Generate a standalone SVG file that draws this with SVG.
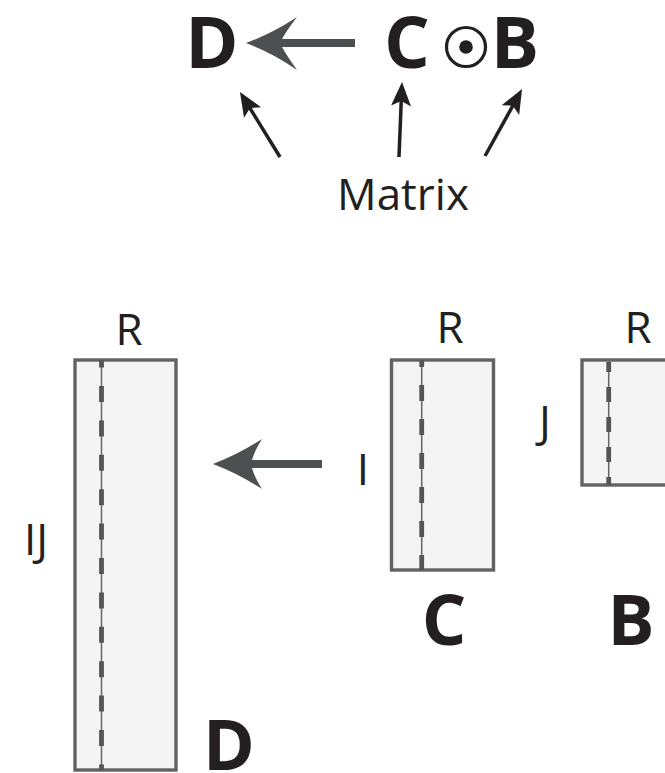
<svg xmlns="http://www.w3.org/2000/svg" width="665" height="773" viewBox="0 0 665 773">
  <style>
    .lbl { font-family: "Open Sans", "Liberation Sans", sans-serif; fill: #231f20; text-anchor: middle; }
    .big { font-weight: 700; font-size: 72px; }
    .mid { font-size: 44px; }
    .mat { fill: #f4f4f4; stroke: #626262; stroke-width: 3.4; }
    .axis { stroke: #666666; stroke-width: 1.5; fill: none; }
    .dash { stroke: #555555; stroke-width: 4.8; fill: none; }
    .thin { stroke: #231f20; stroke-width: 3.5; fill: none; marker-end: url(#head); }
    .fat { fill: #4d5050; }
  </style>
  <defs>
    <marker id="head" markerUnits="userSpaceOnUse" viewBox="-16 -11 28 22" markerWidth="28" markerHeight="22" refX="0" refY="0" orient="auto">
      <path d="M10,0 L-14,-10 L-9,0 L-14,10 Z" fill="#231f20"/>
    </marker>
  </defs>

  <!-- formula: D <- C (.) B -->
  <g id="formula">
    <text class="lbl big" x="212" y="68">D</text>
    <text class="lbl big" x="407" y="68">C</text>
    <text class="lbl big" x="515" y="68">B</text>
    <circle cx="466" cy="47" r="19.5" fill="none" stroke="#231f20" stroke-width="3.2"/>
    <circle cx="466" cy="47" r="6.8" fill="#231f20"/>
  </g>

  <g id="matrix-label">
    <text class="lbl mid" x="403" y="210">Matrix</text>
  </g>

  <g id="connectors">
    <path class="fat" d="M246,43 Q273,33 297,17 Q287,30 282,39 L355,39 L355,47 L282,47 Q287,56 297,70 Q273,53 246,43 Z"/>
    <line class="thin" x1="280" y1="157" x2="245.2" y2="100.5"/>
    <line class="thin" x1="399" y1="157" x2="401.6" y2="92"/>
    <line class="thin" x1="485" y1="156" x2="517.2" y2="97.8"/>
    <path class="fat" d="M213,464 Q239,454 262,439 Q254,452 252,460 L322,460 L322,468 L252,468 Q254,476 262,489 Q239,474 213,464 Z"/>
  </g>

  <!-- D : IJ x R -->
  <g id="matrix-D">
    <rect class="mat" x="75" y="360" width="101" height="410"/>
    <line class="axis" x1="101.5" y1="360" x2="101.5" y2="770"/>
    <line class="dash" x1="101.5" y1="360" x2="101.5" y2="770" stroke-dasharray="16 18.4" stroke-dashoffset="8.4"/>
    <text class="lbl mid" x="129" y="345">R</text>
    <text class="lbl mid" x="36" y="555">IJ</text>
    <text class="lbl big" x="229" y="770" style="font-size:70px">D</text>
  </g>

  <!-- C : I x R -->
  <g id="matrix-C">
    <rect class="mat" x="391.5" y="360" width="102" height="210"/>
    <line class="axis" x1="421.7" y1="360" x2="421.7" y2="570"/>
    <line class="dash" x1="421.7" y1="360" x2="421.7" y2="570" stroke-dasharray="16 18" stroke-dashoffset="9"/>
    <text class="lbl mid" x="450" y="343">R</text>
    <text class="lbl mid" x="363" y="485">I</text>
    <text class="lbl big" x="444" y="645" style="font-size:70px">C</text>
  </g>

  <!-- B : J x R -->
  <g id="matrix-B">
    <rect class="mat" x="582" y="360" width="102" height="125"/>
    <line class="axis" x1="608.7" y1="360" x2="608.7" y2="485"/>
    <line class="dash" x1="608.7" y1="362" x2="608.7" y2="485" stroke-dasharray="15 15" stroke-dashoffset="5"/>
    <text class="lbl mid" x="638" y="343">R</text>
    <text class="lbl mid" x="545" y="437">J</text>
    <text class="lbl big" x="631" y="645" style="font-size:70px">B</text>
  </g>
</svg>
